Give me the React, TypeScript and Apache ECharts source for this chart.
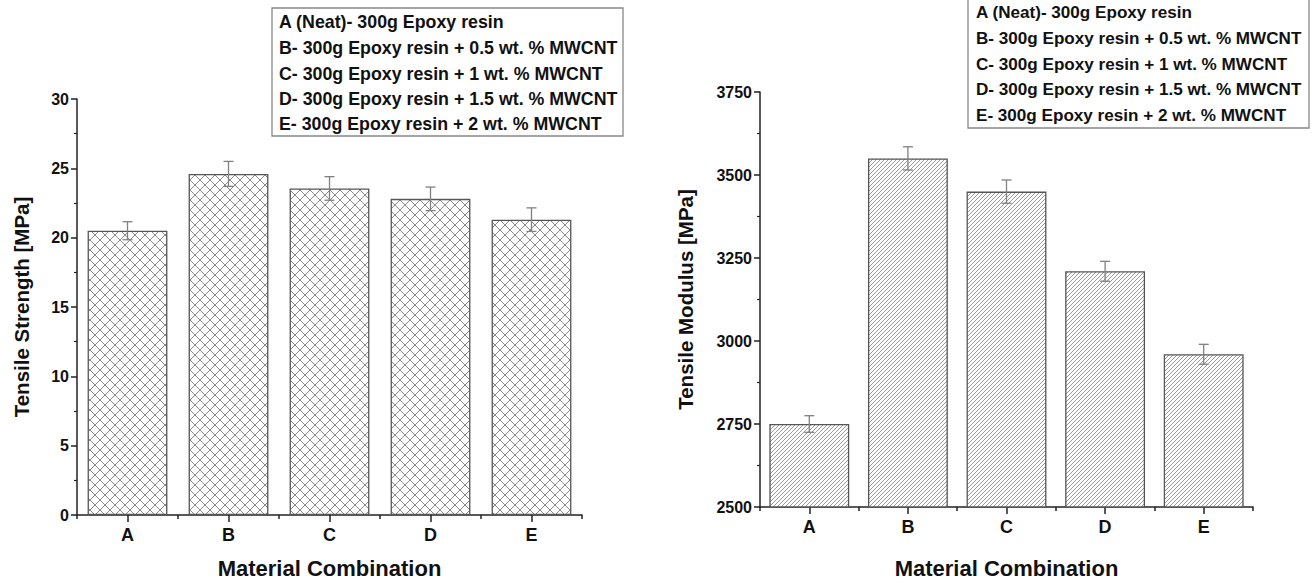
import React, { useEffect, useRef } from "react";
import * as echarts from "echarts";

const categories = ["A", "B", "C", "D", "E"];
const strengthValues = [20.5, 24.6, 23.55, 22.8, 21.3];
const strengthErrors = [0.65, 0.9, 0.85, 0.85, 0.85];
const modulusValues = [2750, 3550, 3450, 3210, 2960];
const modulusErrors = [25, 35, 35, 30, 30];
const strengthAxis = { min: 0, max: 30, interval: 5 };
const modulusAxis = { min: 2500, max: 3750, interval: 250 };
const legendLines = [
  "A (Neat)- 300g Epoxy resin",
  "B- 300g Epoxy resin + 0.5 wt. % MWCNT",
  "C- 300g Epoxy resin + 1 wt. % MWCNT",
  "D- 300g Epoxy resin + 1.5 wt. % MWCNT",
  "E- 300g Epoxy resin + 2 wt. % MWCNT",
];

const FONT = '"Liberation Sans", Arial, Helvetica, sans-serif';

function makePattern(kind: "cross" | "diag") {
  const p = kind === "cross" ? 10 : 4;
  const c = document.createElement("canvas");
  c.width = p;
  c.height = p;
  const ctx = c.getContext("2d")!;
  ctx.fillStyle = "#ffffff";
  ctx.fillRect(0, 0, p, p);
  ctx.strokeStyle = kind === "cross" ? "#8a8a8a" : "#9a9a9a";
  ctx.lineWidth = 1;
  const seg = (x1: number, y1: number, x2: number, y2: number) => {
    ctx.beginPath();
    ctx.moveTo(x1, y1);
    ctx.lineTo(x2, y2);
    ctx.stroke();
  };
  // "/" lines
  seg(-1, p + 1, p + 1, -1);
  seg(-1, 1, 1, -1);
  seg(p - 1, p + 1, p + 1, p - 1);
  if (kind === "cross") {
    // "\" lines
    seg(-1, -1, p + 1, p + 1);
    seg(p - 1, -1, p + 1, 1);
    seg(-1, p - 1, 1, p + 1);
  }
  return { image: c, repeat: "repeat", imageWidth: p, imageHeight: p } as any;
}

function errorRenderer(params: any, api: any) {
  const i = api.value(0);
  const v = api.value(1);
  const e = api.value(2);
  const top = api.coord([i, v + e]);
  const bot = api.coord([i, v - e]);
  const x = top[0];
  const w = 5;
  const style = { stroke: "#808080", lineWidth: 1.3 };
  return {
    type: "group",
    children: [
      { type: "line", shape: { x1: x, y1: top[1], x2: x, y2: bot[1] }, style },
      { type: "line", shape: { x1: x - w, y1: top[1], x2: x + w, y2: top[1] }, style },
      { type: "line", shape: { x1: x - w, y1: bot[1], x2: x + w, y2: bot[1] }, style },
    ],
  };
}

export default function App() {
  const ref = useRef<HTMLDivElement>(null);

  useEffect(() => {
    if (!ref.current) return;
    const chart = echarts.init(ref.current, undefined, { renderer: "svg" });

    const axisLineStyle = { color: "#222", width: 1.5 };
    const mainX = (gridIndex: number, nameGap: number) => ({
      gridIndex,
      type: "category",
      data: categories,
      position: "bottom",
      axisLine: { show: true, lineStyle: axisLineStyle },
      axisTick: { show: true, alignWithLabel: true, length: 7, lineStyle: axisLineStyle },
      axisLabel: { fontSize: 18, fontWeight: "bold", color: "#111", fontFamily: FONT, margin: 11 },
      name: "Material Combination",
      nameLocation: "middle",
      nameGap,
      nameTextStyle: { fontSize: 22, fontWeight: "bold", color: "#111", fontFamily: FONT },
      splitLine: { show: false },
    });
    const boundaryX = (gridIndex: number) => ({
      gridIndex,
      type: "category",
      data: categories,
      position: "bottom",
      axisLine: { show: false },
      axisTick: { show: true, alignWithLabel: false, length: 4, lineStyle: axisLineStyle },
      axisLabel: { show: false },
      splitLine: { show: false },
    });
    const yAx = (gridIndex: number, cfg: any, name: string, nameGap: number) => ({
      gridIndex,
      type: "value",
      min: cfg.min,
      max: cfg.max,
      interval: cfg.interval,
      axisLine: { show: true, lineStyle: axisLineStyle },
      axisTick: { show: true, inside: false, length: 6, lineStyle: axisLineStyle },
      minorTick: { show: true, splitNumber: 2, length: 3, lineStyle: { color: "#222", width: 1.2 } },
      splitLine: { show: false },
      axisLabel: {
        fontSize: 16,
        fontWeight: "bold",
        color: "#111",
        fontFamily: FONT,
        margin: 8,
        formatter: (v: number) => String(v),
      },
      name,
      nameLocation: "middle",
      nameRotate: 90,
      nameGap,
      nameTextStyle: { fontSize: 20.5, fontWeight: "bold", color: "#111", fontFamily: FONT },
    });

    const cross = makePattern("cross");
    const diag = makePattern("diag");

    const legendGraphic = (
      x: number,
      y: number,
      w: number,
      h: number,
      rows: number[],
      fontSize: number,
      pad: number
    ) => [
      {
        type: "rect",
        shape: { x, y, width: w, height: h },
        style: { fill: "#fff", stroke: "#888", lineWidth: 1.3 },
        z: 10,
      },
      ...legendLines.map((t, k) => ({
        type: "text",
        x: x + pad,
        y: rows[k],
        z: 11,
        style: {
          text: t,
          fontSize,
          fontWeight: "bold",
          fontFamily: FONT,
          fill: "#111",
          verticalAlign: "middle",
          align: "left",
        },
      })),
    ];

    chart.setOption({
      animation: false,
      backgroundColor: "#ffffff",
      grid: [
        { left: 77, top: 99, width: 505, height: 418, containLabel: false },
        { left: 760, top: 92, width: 493, height: 415, containLabel: false },
      ],
      xAxis: [mainX(0, 42), boundaryX(0), mainX(1, 50), boundaryX(1)],
      yAxis: [
        yAx(0, strengthAxis, "Tensile Strength [MPa]", 45),
        yAx(1, modulusAxis, "Tensile Modulus [MPa]", 64),
      ],
      series: [
        {
          type: "bar",
          xAxisIndex: 0,
          yAxisIndex: 0,
          data: strengthValues,
          barWidth: "79%",
          itemStyle: { color: cross, borderColor: "#555", borderWidth: 1.3 },
        },
        {
          type: "custom",
          xAxisIndex: 0,
          yAxisIndex: 0,
          z: 5,
          renderItem: errorRenderer,
          encode: { x: 0, y: 1 },
          data: strengthValues.map((v, i) => [i, v, strengthErrors[i]]),
        },
        {
          type: "bar",
          xAxisIndex: 2,
          yAxisIndex: 1,
          data: modulusValues,
          barWidth: "81%",
          itemStyle: { color: diag, borderColor: "#555", borderWidth: 1.3 },
        },
        {
          type: "custom",
          xAxisIndex: 2,
          yAxisIndex: 1,
          z: 5,
          renderItem: errorRenderer,
          encode: { x: 0, y: 1 },
          data: modulusValues.map((v, i) => [i, v, modulusErrors[i]]),
        },
      ],
      graphic: [
        ...legendGraphic(272, 8, 351, 128, [22, 48, 74, 99, 124], 17.8, 7),
        ...legendGraphic(968, -1, 341, 129, [12, 38, 64, 89, 115], 17.1, 8),
      ],
    });

    return () => chart.dispose();
  }, []);

  return (
    <div
      ref={ref}
      style={{ position: "fixed", left: 0, top: 0, width: 1313, height: 584, background: "#fff" }}
    />
  );
}
